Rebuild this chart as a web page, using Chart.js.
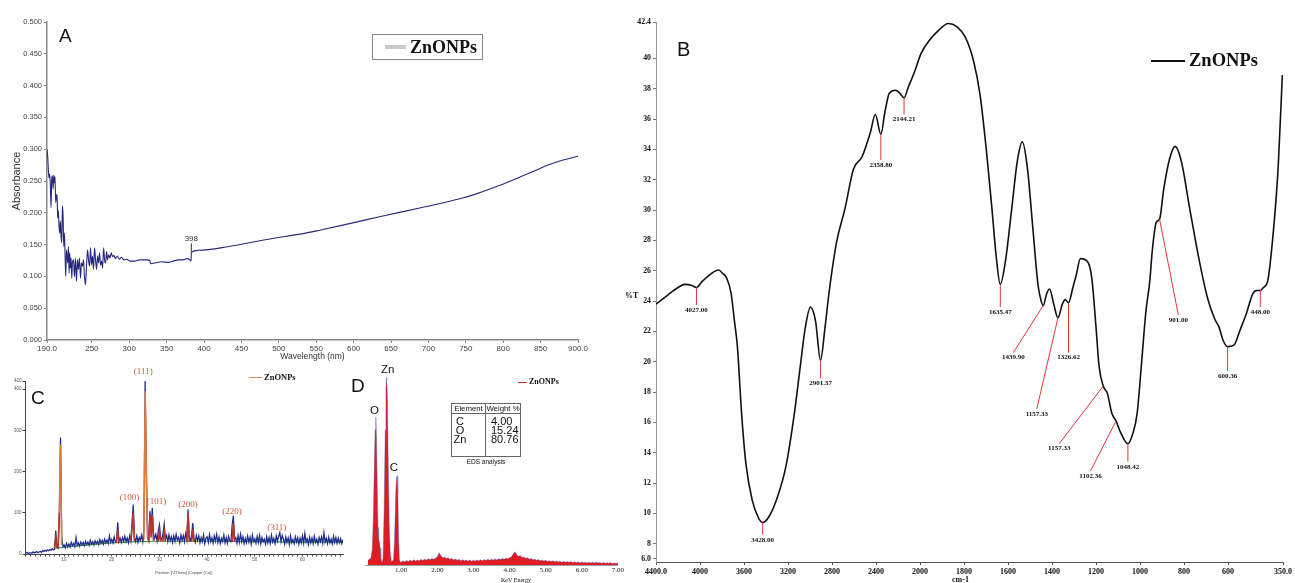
<!DOCTYPE html>
<html>
<head>
<meta charset="utf-8">
<script src="https://cdn.jsdelivr.net/npm/chart.js@4.4.1/dist/chart.umd.min.js"></script>
<style>
  body { margin: 0; width: 1295px; height: 583px; position: relative; overflow: hidden; background: #fff; font-family: Arial, "Liberation Sans", sans-serif; }
  canvas { position: absolute; }
  .t { position: absolute; white-space: nowrap; line-height: 1; color: #111; }
  .serif { font-family: "Liberation Serif", "Times New Roman", serif; font-weight: bold; }
</style>
</head>
<body>
<canvas id="uvChart" width="600" height="370" style="left:0;top:0"></canvas>
<canvas id="ftirChart" width="665" height="583" style="left:630px;top:0"></canvas>
<canvas id="xrdChart" width="345" height="223" style="left:0;top:360px"></canvas>
<canvas id="edsChart" width="280" height="223" style="left:345px;top:360px"></canvas>

<!-- panel letters -->
<div class="t" style="left:59px;top:26px;font-size:19px">A</div>
<div class="t" style="left:677px;top:39px;font-size:20px">B</div>
<div class="t" style="left:31px;top:388px;font-size:19px">C</div>
<div class="t" style="left:351px;top:376px;font-size:19px">D</div>

<!-- legends -->
<div style="position:absolute;left:372px;top:34px;width:111px;height:26px;border:1px solid #888;box-sizing:border-box">
  <div style="position:absolute;left:12px;top:10px;width:21px;height:3.5px;background:#c9c9c9"></div>
  <div class="t serif" style="left:37px;top:3px;font-size:18px">ZnONPs</div>
</div>
<div style="position:absolute;left:1151px;top:60px;width:34px;height:2px;background:#111"></div>
<div class="t serif" style="left:1189px;top:51px;font-size:18.5px">ZnONPs</div>
<div style="position:absolute;left:249px;top:376.5px;width:13px;height:1.5px;background:#e38a4f"></div>
<div class="t serif" style="left:264px;top:372.5px;font-size:8.5px">ZnONPs</div>
<div style="position:absolute;left:518px;top:381.5px;width:9px;height:1px;background:#d9262c"></div>
<div class="t serif" style="left:529px;top:378px;font-size:8px">ZnONPs</div>

<!-- axis texts outside the scale boxes -->
<div class="t serif" style="left:625px;top:292px;font-size:8px">%T</div>
<div class="t serif" style="left:952px;top:576px;font-size:8px">cm-1</div>
<div class="t" style="left:501px;top:577px;font-size:6px;font-family:'Liberation Serif',serif">KeV Energy</div>

<!-- EDS inset table -->
<div style="position:absolute;left:451px;top:403px;width:70px;height:54px;border:1px solid #666;box-sizing:border-box">
  <div style="position:absolute;left:33px;top:0;width:1px;height:52px;background:#666"></div>
  <div style="position:absolute;left:0;top:9px;width:68px;height:1px;background:#666"></div>
  <div class="t" style="left:0;top:1px;width:33px;text-align:center;font-size:7.8px">Element</div>
  <div class="t" style="left:34px;top:1px;width:34px;text-align:center;font-size:7.8px">Weight %</div>
  <div class="t" style="left:0;top:13px;width:16px;text-align:center;font-size:11px;line-height:9.2px">C<br>O<br>Zn</div>
  <div class="t" style="left:39px;top:13px;font-size:11px;line-height:9.2px">4.00<br>15.24<br>80.76</div>
</div>
<div class="t" style="left:451px;top:459px;width:70px;text-align:center;font-size:6.5px">EDS analysis</div>

<script>
// ---------- A : UV-Vis ----------
const uvWave = [190, 190.9, 191.8, 192.7, 193.6, 194.5, 195.4, 196.3, 197.2, 198.1, 199.0, 199.8, 200.7, 201.6, 202.5,
  203.4, 204.3, 205.2, 206.1, 207.0, 207.9, 208.8, 209.7, 210.6, 211.5, 212.4, 213.3, 214.2, 215.1, 216.0, 216.9,
  217.8, 218.7, 219.6, 220.4, 221.3, 222.2, 223.1, 224.0, 225.4, 226.7, 228.1, 229.4, 230.7, 232.1, 233.4, 234.8,
  236.1, 237.5, 238.8, 240.1, 241.5, 242.8, 244.2, 245.5, 246.9, 248.2, 249.5, 250.9, 252.2, 253.6, 254.9, 256.3,
  257.6, 258.9, 260.3, 261.6, 263.0, 264.3, 265.7, 267.0, 268.3, 269.7, 271.0, 272.4, 274.2, 276.0, 277.7, 279.5,
  281.3, 284.0, 286.7, 289.4, 293.0, 296.6, 300.6, 307.3, 314.0, 323.0, 327.4, 328.8, 334.2, 343.1, 352.1, 358.8,
  365.5, 372.2, 376.7, 381.2, 382.6, 383.0, 392.4, 433, 484, 536, 556, 587, 639, 690, 742, 762, 793, 824, 844, 860, 880, 900];
const uvAbs = [0.300, 0.289, 0.268, 0.255, 0.261, 0.242, 0.208, 0.253, 0.258, 0.237, 0.259, 0.247, 0.257, 0.216, 0.226,
  0.229, 0.192, 0.203, 0.179, 0.168, 0.187, 0.163, 0.153, 0.211, 0.195, 0.147, 0.168, 0.132, 0.100, 0.142, 0.132,
  0.121, 0.147, 0.105, 0.137, 0.113, 0.129, 0.097, 0.121, 0.126, 0.100, 0.129, 0.092, 0.126, 0.111, 0.129, 0.097,
  0.121, 0.116, 0.126, 0.100, 0.087, 0.116, 0.142, 0.126, 0.116, 0.145, 0.118, 0.132, 0.111, 0.145, 0.126, 0.111,
  0.132, 0.121, 0.137, 0.118, 0.124, 0.113, 0.145, 0.126, 0.121, 0.139, 0.126, 0.134, 0.129, 0.137, 0.131, 0.133,
  0.128, 0.132, 0.127, 0.130, 0.126, 0.127, 0.124, 0.124, 0.126, 0.126, 0.125, 0.120, 0.121, 0.123, 0.122, 0.124,
  0.126, 0.126, 0.128, 0.126, 0.124, 0.138, 0.141, 0.147, 0.158, 0.168, 0.173, 0.181, 0.195, 0.208, 0.222, 0.229,
  0.242, 0.257, 0.267, 0.275, 0.283, 0.289];
const uvTicks = [190, 250, 300, 350, 400, 450, 500, 550, 600, 650, 700, 750, 800, 850, 900];
const uvTickLabels = ['190.0', '250', '300', '350', '400', '450', '500', '550', '600', '650', '700', '750', '800', '850', '900.0'];
const uvMark = { label: '398', wave: 383, from: 0.139, to: 0.152 };

// ---------- B : FTIR ----------
const ftirWave = [4400, 4293, 4200, 4139, 4080, 4032, 3980, 3900, 3832, 3790, 3756, 3717, 3687, 3660, 3622, 3583,
  3526, 3468, 3430, 3372, 3295, 3219, 3142, 3085, 3046, 2996, 2950, 2904, 2866, 2828, 2758, 2682, 2605, 2528, 2452,
  2406, 2356, 2318, 2279, 2222, 2183, 2145, 2107, 2050, 1996, 1957, 1919, 1871, 1833, 1794, 1756, 1727, 1698, 1673,
  1654, 1635, 1612, 1583, 1558, 1535, 1512, 1487, 1463, 1449, 1440, 1424, 1411, 1392, 1373, 1353, 1340, 1325, 1305,
  1290, 1271, 1238, 1219, 1199, 1186, 1167, 1148, 1128, 1109, 1090, 1055, 1032, 1013, 993, 974, 955, 945, 926, 911,
  892, 865, 840, 812, 774, 735, 693, 660, 641, 622, 602, 573, 545, 516, 487, 468, 453, 439, 420, 395, 372, 353];
const ftirT = [23.8, 24.4, 24.9, 25.1, 25.05, 24.9, 25.3, 25.8, 26.05, 25.8, 25.5, 24.5, 22.7, 21.0, 16.6, 13.3,
  10.9, 9.7, 9.4, 9.8, 11.1, 13.1, 16.6, 19.9, 22.1, 23.6, 22.7, 20.1, 22.1, 24.5, 27.9, 30.1, 32.7, 33.5, 35.1,
  36.3, 35.0, 36.5, 37.7, 37.9, 37.7, 37.4, 38.1, 39.1, 40.3, 41.2, 41.8, 42.3, 42.1, 41.4, 39.8, 37.6, 33.9, 30.1,
  27.0, 25.1, 26.6, 30.1, 33.2, 34.5, 32.8, 28.8, 25.0, 24.0, 23.7, 24.5, 24.8, 23.8, 22.9, 23.8, 24.1, 23.9, 24.9,
  25.7, 26.8, 26.6, 25.5, 22.1, 19.7, 18.4, 17.9, 16.6, 16.1, 15.4, 14.6, 15.3, 16.6, 19.9, 23.2, 25.4, 27.2, 29.2, 29.4,
  31.4, 33.4, 34.2, 33.2, 30.1, 27.0, 24.2, 22.8, 22.3, 21.4, 21.0, 21.1, 22.1, 23.2, 24.5, 24.7, 24.7, 24.9, 25.3, 28.4, 32.8, 38.9];
const ftirXTicks = [4400, 4000, 3600, 3200, 2800, 2400, 2000, 1800, 1600, 1400, 1200, 1000, 800, 600, 350];
const ftirXLabels = ['4400.0', '4000', '3600', '3200', '2800', '2400', '2000', '1800', '1600', '1400', '1200', '1000', '800', '600', '350.0'];
const ftirYTicks = [7, 8, 10, 12, 14, 16, 18, 20, 22, 24, 26, 28, 30, 32, 34, 36, 38, 40, 42.4];
const ftirYLabels = ['6.0', '8', '10', '12', '14', '16', '18', '20', '22', '24', '26', '28', '30', '32', '34', '36', '38', '40', '42.4'];
// [label, from wave, from %T, to wave, to %T]
const ftirMarks = [
  ['4027.00', 4032, 24.9, 4032, 23.75],
  ['3428.00', 3430, 9.4, 3430, 8.6],
  ['2901.57', 2904, 20.1, 2904, 18.9],
  ['2358.80', 2356, 35.0, 2356, 33.3],
  ['2144.21', 2145, 37.4, 2145, 36.3],
  ['1635.47', 1635, 25.1, 1635, 23.6],
  ['1439.90', 1440, 23.7, 1576, 20.6],
  ['1157.33', 1373, 22.9, 1469, 16.9],
  ['1326.62', 1325, 23.9, 1325, 20.6],
  ['1157.33', 1167, 18.4, 1367, 14.6],
  ['1102.36', 1109, 16.1, 1225, 12.8],
  ['1048.42', 1055, 14.6, 1055, 13.4],
  ['901.00', 911, 29.4, 826, 23.1],
  ['600.36', 602, 21.0, 602, 19.4],
  ['448.00', 453, 24.7, 453, 23.6]
];

// ---------- C : XRD ----------
const xrdStart = 2, xrdStep = 0.25;
const xrdCounts = [
  2, 4, 1, 3, 3, 2, 5, 3, 4, 6, 3, 5, 6, 4, 8, 6, 9, 7, 10, 8, 11, 9, 13, 10, 12, 57, 16, 14, 90, 283, 40, 18,
  22, 15, 26, 18, 24, 17, 28, 20, 26, 18, 40, 21, 27, 19, 29, 22, 28, 20, 31, 23, 29, 21, 33, 24, 30, 22, 32, 25, 31, 23, 35, 26, 33, 24, 36, 27, 34, 26, 44, 28,
  36, 27, 42, 29, 33, 77, 30, 38, 28, 40, 31, 43, 30, 39, 27, 44, 32, 75, 120, 40, 30, 44, 28, 40, 33, 46, 30, 60, 420, 200, 45, 35, 104, 60, 112, 50, 38, 48, 32, 55,
  71, 40, 35, 50, 73, 36, 45, 30, 47, 32, 42, 28, 44, 30, 48, 34, 40, 27, 46, 33, 45, 30, 50, 35, 108, 40, 33, 47, 75, 36, 28, 45, 32, 44, 27, 40, 30, 46, 25, 38,
  42, 28, 47, 30, 39, 26, 44, 31, 48, 28, 41, 25, 38, 30, 46, 27, 40, 26, 43, 33, 30, 70, 93, 35, 40, 26, 45, 28, 48, 30, 42, 25, 38, 27, 44, 29, 41, 24, 46, 30,
  37, 26, 43, 28, 45, 25, 40, 30, 36, 24, 42, 27, 40, 26, 46, 29, 38, 25, 44, 31, 43, 52, 30, 45, 36, 24, 41, 28, 39, 23, 44, 27, 35, 25, 42, 29, 40, 24, 38, 27,
  44, 26, 50, 29, 37, 23, 41, 27, 39, 25, 43, 28, 36, 24, 40, 30, 42, 26, 52, 29, 38, 25, 41, 27, 36, 24, 43, 28, 40, 26, 39, 27, 37, 25, 35];
const xrdCalcAngle = [8.0, 8.25, 8.5, 8.6, 8.75, 9.0, 9.25, 9.5, 15, 21.0, 21.25, 21.5, 22, 24.0, 24.25, 24.5, 24.75, 25,
  26.5, 26.75, 27.0, 27.25, 27.5, 27.75, 28.0, 28.25, 28.5, 28.75, 29, 29.75, 30.0, 30.25, 30.5, 30.75, 31.0, 31.25, 33,
  35.75, 36.0, 36.25, 36.5, 36.75, 37.0, 37.25, 40, 45.25, 45.5, 45.75];
const xrdCalcCounts = [14, 38, 15, null, 16, 100, 265, 22, null, 28, 59, 28, null, 30, 60, 100, 31, null,
  31, 40, 395, 200, 40, 32, 92, 40, 95, 32, null, 30, 55, 30, null, 30, 57, 30, null,
  30, 100, 30, null, 30, 60, 30, null, 29, 75, 29];
const xrdBgAngle = [8, 15, 20, 25, 30, 40, 50, 60, 68.5];
const xrdBgCounts = [14, 22, 27, 30, 31, 31, 30, 29, 29];
const xrdYTicks = [0, 100, 200, 300, 400, 420];
const xrdPeakLabels = ['(111)', '(100)', '(101)', '(200)', '(220)', '(311)'];
const xrdPeakAt = [[26.6, 443], [23.7, 138], [29.4, 126], [36.0, 119], [45.2, 103], [54.6, 64]];

// ---------- D : EDS ----------
const edsPeakEnergy = [0.08, 0.12, 0.16, 0.20, 0.23, 0.26, 0.28, 0.30, 0.32, 0.34, 0.36, 0.38, 0.40, 0.42, 0.44,
  0.46, 0.48, 0.50, 0.53, 0.56, 0.58, 0.60, 0.62, 0.64, 0.67, 0.70, 0.73, 0.76, 0.79, 0.82, 0.85, 0.87, 0.89, 0.91, 0.93, 0.95, 0.98];
const edsPeakCounts = [2.5, 3, 3.5, 8, 25, 55, 72, 78.6, 66, 40, 20, 14, 12, 9, 4,
  2, 1.5, 4, 30, 72, 94, 100, 90, 60, 22, 6, 2, 2, 3, 15, 38, 46, 47.4, 38, 15, 3, 1.5];
const edsTailStart = 1.0, edsTailStep = 0.05;
const edsTailCounts = [
  1.5, 2.2, 1.6, 2.4, 1.8, 2.6, 2.0, 2.8, 2.1, 2.6, 2.3, 3.0, 2.4, 3.1, 2.6, 3.3, 2.8, 3.4, 3.0, 3.6,
  4.2, 6.5, 5.0, 3.8, 4.2, 3.4, 3.9, 3.1, 3.5, 2.8, 3.2, 2.5, 3.0, 2.3, 2.8, 2.2, 2.7, 2.1, 2.6, 2.0,
  2.5, 2.1, 2.7, 2.2, 2.8, 2.3, 2.9, 2.4, 3.0, 2.5, 3.1, 2.6, 3.2, 2.7, 3.3, 2.9, 3.5, 3.0, 3.6, 3.3,
  3.8, 4.3, 5.8, 7.0, 5.4, 4.6, 5.0, 4.0, 4.3, 3.5, 3.8, 3.1, 3.4, 2.8, 3.1, 2.5, 2.9, 2.3, 2.6, 2.1,
  2.5, 1.9, 2.3, 1.8, 2.2, 1.7, 2.1, 1.6, 2.0, 1.5, 1.9, 1.5, 1.8, 1.4, 1.8, 1.3, 1.7, 1.3, 1.6, 1.2,
  1.6, 1.2, 1.5, 1.1, 1.5, 1.1, 1.4, 1.0, 1.4, 1.0, 1.3, 0.9, 1.3, 0.9, 1.2, 0.9, 1.2, 0.8, 1.1, 0.8,
  1.0];
const edsTicks = [1, 2, 3, 4, 5, 6, 7];
const edsElementLabels = ['O', 'Zn', 'C'];
const edsElementAt = [[0.26, 82], [0.63, 103.6], [0.80, 51.5]];

// ---------- shared ----------
Chart.defaults.animation = false;
Chart.defaults.font.family = 'Arial, "Liberation Sans", sans-serif';
Chart.defaults.plugins.legend.display = false;
Chart.defaults.plugins.tooltip.enabled = false;
const serifBold = (size) => ({ family: '"Liberation Serif", "Times New Roman", serif', weight: 'bold', size: size });

// FTIR axis is split at 2000 cm-1: 400 per step above, 200 per step below
function wavePos(w) {
  return w >= 2000 ? (4400 - w) / 400 : 6 + (2000 - w) / 200;
}
class WaveScale extends Chart.LinearScale {
  getPixelForValue(value) {
    if (value === null || value === undefined) return NaN;
    return this.getPixelForDecimal(wavePos(value) / wavePos(this.min));
  }
  getValueForPixel(pixel) {
    const p = this.getDecimalForPixel(pixel) * wavePos(this.min);
    return p <= 6 ? 4400 - 400 * p : 2000 - 200 * (p - 6);
  }
}
WaveScale.id = 'wave';
WaveScale.defaults = {};
Chart.register(WaveScale);

// ---------- chart A ----------
new Chart(document.getElementById('uvChart'), {
  type: 'line',
  data: {
    datasets: [{
      data: uvWave.map((w, i) => ({ x: w, y: uvAbs[i] })),
      borderColor: '#27287c',
      borderWidth: 1.1,
      pointRadius: 0,
      cubicInterpolationMode: 'monotone'
    }]
  },
  options: {
    responsive: false,
    events: [],
    layout: { padding: { top: 22, right: 22, left: 0, bottom: 0 } },
    scales: {
      x: {
        type: 'linear', min: 190, max: 900,
        afterFit: (s) => { s.height = 30; },
        afterBuildTicks: (s) => { s.ticks = uvTicks.map(v => ({ value: v })); },
        ticks: { autoSkip: false, maxRotation: 0, padding: 1, color: '#444', font: { size: 8 },
          callback: (v) => uvTickLabels[uvTicks.indexOf(v)] },
        grid: { drawOnChartArea: false, tickLength: 3, color: '#888' },
        border: { color: '#888', width: 1.5 },
        title: { display: true, text: 'Wavelength (nm)', color: '#333', font: { size: 8.5 }, padding: { top: 0, bottom: 8 } }
      },
      y: {
        min: 0, max: 0.5,
        afterFit: (s) => { s.width = 47; },
        ticks: { stepSize: 0.05, padding: 2, color: '#444', font: { size: 7.5 }, callback: (v) => v.toFixed(3) },
        grid: { drawOnChartArea: false, tickLength: 3, color: '#888' },
        border: { color: '#888', width: 1.5 },
        title: { display: true, text: 'Absorbance', color: '#333', font: { size: 11 }, padding: { top: 10.4, bottom: 0 } }
      }
    }
  },
  plugins: [{
    id: 'uvMark',
    afterDatasetsDraw(chart) {
      const { ctx, scales: { x, y } } = chart;
      const px = x.getPixelForValue(uvMark.wave);
      const top = y.getPixelForValue(uvMark.to);
      ctx.save();
      ctx.strokeStyle = '#333';
      ctx.lineWidth = 1;
      ctx.beginPath();
      ctx.moveTo(px, y.getPixelForValue(uvMark.from));
      ctx.lineTo(px, top);
      ctx.stroke();
      ctx.fillStyle = '#333';
      ctx.font = '8px Arial';
      ctx.textAlign = 'center';
      ctx.textBaseline = 'bottom';
      ctx.fillText(uvMark.label, px, top - 1);
      ctx.restore();
    }
  }]
});

// ---------- chart B ----------
new Chart(document.getElementById('ftirChart'), {
  type: 'line',
  data: {
    datasets: [{
      data: ftirWave.map((w, i) => ({ x: w, y: ftirT[i] })),
      borderColor: '#111',
      borderWidth: 1.6,
      pointRadius: 0,
      cubicInterpolationMode: 'monotone'
    }]
  },
  options: {
    responsive: false,
    events: [],
    layout: { padding: { top: 22, right: 12, left: 0, bottom: 0 } },
    scales: {
      x: {
        type: 'wave', min: 350, max: 4400,
        afterFit: (s) => { s.height = 21; },
        afterBuildTicks: (s) => { s.ticks = ftirXTicks.map(v => ({ value: v })); },
        ticks: { autoSkip: false, maxRotation: 0, padding: 2, color: '#111', font: serifBold(8),
          callback: (v) => ftirXLabels[ftirXTicks.indexOf(v)] },
        grid: { drawOnChartArea: false, tickLength: 3, color: '#555' },
        border: { color: '#555', width: 1 }
      },
      y: {
        min: 6.8, max: 42.4,
        afterFit: (s) => { s.width = 26; },
        afterBuildTicks: (s) => { s.ticks = ftirYTicks.map(v => ({ value: v })); },
        ticks: { autoSkip: false, padding: 2, color: '#111', font: serifBold(7.8),
          callback: (v) => ftirYLabels[ftirYTicks.indexOf(v)] },
        grid: { drawOnChartArea: false, tickLength: 3, color: '#777' },
        border: { color: '#999', width: 1 }
      }
    }
  },
  plugins: [{
    id: 'ftirMarks',
    afterDatasetsDraw(chart) {
      const { ctx, scales: { x, y } } = chart;
      ctx.save();
      ctx.strokeStyle = '#e0393b';
      ctx.lineWidth = 1;
      ctx.fillStyle = '#111';
      ctx.font = 'bold 7px "Liberation Serif", serif';
      ctx.textAlign = 'center';
      ctx.textBaseline = 'top';
      ftirMarks.forEach(([label, w1, v1, w2, v2]) => {
        const x2 = x.getPixelForValue(w2), y2 = y.getPixelForValue(v2);
        ctx.beginPath();
        ctx.moveTo(x.getPixelForValue(w1), y.getPixelForValue(v1));
        ctx.lineTo(x2, y2);
        ctx.stroke();
        ctx.fillText(label, x2, y2 + 1.5);
      });
      ctx.restore();
    }
  }]
});

// ---------- chart C ----------
const xrdPoints = xrdCounts.map((c, i) => ({ x: xrdStart + i * xrdStep, y: c }));
new Chart(document.getElementById('xrdChart'), {
  type: 'line',
  data: {
    datasets: [
      {
        data: xrdCalcAngle.map((a, i) => ({ x: a, y: xrdCalcCounts[i] })),
        borderColor: '#b8372c',
        borderWidth: 1.6,
        pointRadius: 0,
        segment: { borderColor: (c) => (c.p0.parsed.y > 180 || c.p1.parsed.y > 180) ? '#de7a3c' : undefined }
      },
      { data: xrdPoints, borderColor: '#1e2c8a', borderWidth: 1.25, pointRadius: 0 },
      { data: xrdBgAngle.map((a, i) => ({ x: a, y: xrdBgCounts[i] })), borderColor: '#3c9b45', borderWidth: 1.2, pointRadius: 0 }
    ]
  },
  options: {
    responsive: false,
    events: [],
    layout: { padding: { top: 21, right: 2, left: 0, bottom: 0 } },
    scales: {
      x: {
        type: 'linear', min: 1.8, max: 68.5,
        afterFit: (s) => { s.height = 29; },
        afterBuildTicks: (s) => {
          const t = [];
          for (let v = 2; v <= 68; v++) t.push({ value: v });
          s.ticks = t;
        },
        ticks: { autoSkip: false, maxRotation: 0, padding: 1, color: '#555', font: { size: 4.5 },
          callback: (v) => (v % 10 === 0 ? String(v) : '') },
        grid: { drawOnChartArea: false, tickLength: 2.5, color: '#444' },
        border: { color: '#444', width: 1 },
        title: { display: true, text: 'Position [°2Theta] (Copper (Cu))', color: '#444', font: { size: 4 }, padding: { top: 0, bottom: 7.9 } }
      },
      y: {
        min: 0, max: 420,
        afterFit: (s) => { s.width = 25; },
        afterBuildTicks: (s) => { s.ticks = xrdYTicks.map(v => ({ value: v })); },
        ticks: { autoSkip: false, padding: 1, color: '#555', font: { size: 4.5 } },
        grid: { drawOnChartArea: false, tickLength: 2.5, color: '#444' },
        border: { color: '#444', width: 1 }
      }
    }
  },
  plugins: [{
    id: 'xrdLabels',
    afterDatasetsDraw(chart) {
      const { ctx, scales: { x, y } } = chart;
      ctx.save();
      ctx.fillStyle = '#cf5b3a';
      ctx.font = '9px "Liberation Serif", serif';
      ctx.textAlign = 'center';
      ctx.textBaseline = 'middle';
      xrdPeakLabels.forEach((lab, i) => {
        ctx.fillText(lab, x.getPixelForValue(xrdPeakAt[i][0]), y.getPixelForValue(xrdPeakAt[i][1]));
      });
      ctx.restore();
    }
  }]
});

// ---------- chart D ----------
const edsPoints = edsPeakEnergy.map((e, i) => ({ x: e, y: edsPeakCounts[i] }))
  .concat(edsTailCounts.map((c, i) => ({ x: edsTailStart + i * edsTailStep, y: c })));
new Chart(document.getElementById('edsChart'), {
  type: 'line',
  data: {
    datasets: [{
      data: edsPoints,
      borderColor: 'rgba(80, 92, 180, 0.8)',
      borderWidth: 0.5,
      backgroundColor: '#e01b22',
      fill: 'origin',
      pointRadius: 0
    }]
  },
  options: {
    responsive: false,
    events: [],
    layout: { padding: { top: 17, right: 7, left: 20, bottom: 0 } },
    scales: {
      x: {
        type: 'linear', min: 0, max: 7,
        afterFit: (s) => { s.height = 18; },
        afterBuildTicks: (s) => { s.ticks = edsTicks.map(v => ({ value: v })); },
        ticks: { autoSkip: false, maxRotation: 0, padding: 1, color: '#222',
          font: { family: '"Liberation Serif", serif', size: 7 }, callback: (v) => v.toFixed(2) },
        grid: { drawOnChartArea: false, tickLength: 0, color: '#999' },
        border: { color: '#9aa0b0', width: 1 }
      },
      y: { display: false, min: 0, max: 100 }
    }
  },
  plugins: [{
    id: 'edsLabels',
    afterDatasetsDraw(chart) {
      const { ctx, scales: { x, y } } = chart;
      ctx.save();
      ctx.fillStyle = '#111';
      ctx.font = '11.5px Arial';
      ctx.textAlign = 'center';
      ctx.textBaseline = 'middle';
      edsElementLabels.forEach((lab, i) => {
        ctx.fillText(lab, x.getPixelForValue(edsElementAt[i][0]), y.getPixelForValue(edsElementAt[i][1]));
      });
      ctx.restore();
    }
  }]
});
</script>
</body>
</html>
